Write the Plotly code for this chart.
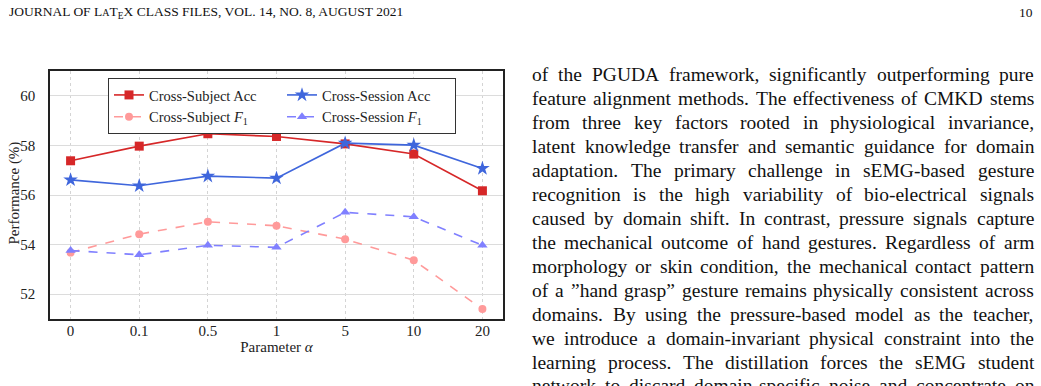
import plotly.graph_objects as go

# ---- data ----
alpha_labels = ["0", "0.1", "0.5", "1", "5", "10", "20"]
subject_acc = [57.38, 57.97, 58.47, 58.36, 58.06, 57.65, 56.17]
session_acc = [56.61, 56.37, 56.76, 56.68, 58.09, 58.01, 57.07]
subject_f1 = [53.68, 54.42, 54.92, 54.76, 54.22, 53.37, 51.40]
session_f1 = [53.76, 53.59, 53.97, 53.89, 55.30, 55.12, 53.97]
y_ticks = [52, 54, 56, 58, 60]

header_text = "JOURNAL OF L<span style='font-size:10px'>A</span>T<sub>E</sub>X CLASS FILES, VOL. 14, NO. 8, AUGUST 2021"
page_number = "10"
body_lines = [
    "of the PGUDA framework, significantly outperforming pure",
    "feature alignment methods. The effectiveness of CMKD stems",
    "from three key factors rooted in physiological invariance,",
    "latent knowledge transfer and semantic guidance for domain",
    "adaptation. The primary challenge in sEMG-based gesture",
    "recognition is the high variability of bio-electrical signals",
    "caused by domain shift. In contrast, pressure signals capture",
    "the mechanical outcome of hand gestures. Regardless of arm",
    "morphology or skin condition, the mechanical contact pattern",
    "of a \u201dhand grasp\u201d gesture remains physically consistent across",
    "domains. By using the pressure-based model as the teacher,",
    "we introduce a domain-invariant physical constraint into the",
    "learning process. The distillation forces the sEMG student",
    "network to discard domain-specific noise and concentrate on",
]

FONT = "Liberation Serif"
W, H = 1041, 386
L, R, T, B = 50, 538, 71, 67
plot_w = W - L - R
plot_h = H - T - B

# Times-compatible advance widths (per 1000 em) for justifying body text
TIMES_W = {
    'a': 444, 'b': 500, 'c': 444, 'd': 500, 'e': 444, 'f': 333, 'g': 500, 'h': 500,
    'i': 278, 'j': 278, 'k': 500, 'l': 278, 'm': 778, 'n': 500, 'o': 500, 'p': 500,
    'q': 500, 'r': 333, 's': 389, 't': 278, 'u': 500, 'v': 500, 'w': 722, 'x': 500,
    'y': 500, 'z': 444,
    'A': 722, 'B': 667, 'C': 667, 'D': 722, 'E': 611, 'F': 556, 'G': 722, 'H': 722,
    'I': 333, 'J': 389, 'K': 722, 'L': 611, 'M': 889, 'N': 722, 'O': 722, 'P': 556,
    'Q': 722, 'R': 667, 'S': 556, 'T': 611, 'U': 722, 'V': 722, 'W': 944, 'X': 722,
    'Y': 722, 'Z': 611,
    ',': 250, '.': 250, '-': 333, '\u201d': 444, '\u201c': 444, ' ': 250,
}


def text_width(s, size):
    return sum(TIMES_W.get(ch, 500) for ch in s) * size / 1000.0


def px_x(px):
    return (px - L) / plot_w


def px_y(py):
    return (H - B - py) / plot_h


x_idx = list(range(len(alpha_labels)))

fig = go.Figure()
fig.add_trace(go.Scatter(
    x=x_idx, y=subject_acc, mode="lines+markers", name="Cross-Subject Acc",
    line=dict(color="#d62728", width=1.6),
    marker=dict(symbol="square", size=9, color="#d62728")))
fig.add_trace(go.Scatter(
    x=x_idx, y=session_acc, mode="lines+markers", name="Cross-Session Acc",
    line=dict(color="#3f66dc", width=1.6),
    marker=dict(symbol="star", size=11, color="#3f66dc")))
fig.add_trace(go.Scatter(
    x=x_idx, y=subject_f1, mode="lines+markers", name="Cross-Subject <i>F</i><sub>1</sub>",
    line=dict(color="#ff9a9a", width=1.6, dash="dash"),
    marker=dict(symbol="circle", size=8, color="#ff9a9a")))
fig.add_trace(go.Scatter(
    x=x_idx, y=session_f1, mode="lines+markers", name="Cross-Session <i>F</i><sub>1</sub>",
    line=dict(color="#8080ff", width=1.6, dash="dash"),
    marker=dict(symbol="triangle-up", size=9, color="#8080ff")))

fig.update_layout(
    width=W, height=H,
    margin=dict(l=L, r=R, t=T, b=B, pad=0, autoexpand=False),
    paper_bgcolor="white", plot_bgcolor="white",
    font=dict(family=FONT, size=15, color="#222"),
    showlegend=True,
    legend=dict(
        orientation="h", x=px_x(108), y=px_y(78), xanchor="left", yanchor="top",
        bgcolor="white", bordercolor="#333", borderwidth=1,
        font=dict(family=FONT, size=14.5, color="#222"),
        entrywidth=128, entrywidthmode="pixels", tracegroupgap=0,
    ),
    xaxis=dict(
        range=[-0.3, 6.3], tickmode="array", tickvals=x_idx, ticktext=alpha_labels,
        showgrid=True, gridcolor="#d4d4d4", griddash="dot", gridwidth=1,
        showline=True, linecolor="#222", linewidth=1.5, mirror=True,
        ticks="", ticklabelstandoff=-3, zeroline=False, automargin=False,
        tickfont=dict(family=FONT, size=15, color="#222"),
        title=dict(text="Parameter <i>α</i>", standoff=0,
                   font=dict(family=FONT, size=15, color="#222")),
    ),
    yaxis=dict(
        range=[51, 61], tickmode="array", tickvals=y_ticks,
        showgrid=True, gridcolor="#dcdcdc", gridwidth=1.2,
        showline=True, linecolor="#222", linewidth=1.5, mirror=True,
        ticks="", ticklabelstandoff=10, zeroline=False, automargin=False,
        tickfont=dict(family=FONT, size=15, color="#222"),
    ),
)

annotations = []
# y-axis title
annotations.append(dict(
    text="Performance (%)", x=px_x(4), y=px_y(193), xref="paper", yref="paper",
    xanchor="left", yanchor="middle", textangle=-90, showarrow=False,
    borderpad=0, font=dict(family=FONT, size=15, color="#222")))
annotations.append(dict(
    text=header_text, x=px_x(7), y=px_y(12), xref="paper", yref="paper",
    xanchor="left", yanchor="middle", showarrow=False,
    font=dict(family=FONT, size=13.5, color="#111")))
annotations.append(dict(
    text=page_number, x=px_x(1035), y=px_y(12), xref="paper", yref="paper",
    xanchor="right", yanchor="middle", showarrow=False,
    font=dict(family=FONT, size=13.5, color="#111")))

BODY_SIZE = 19.5
BODY_LEFT, BODY_RIGHT = 532, 1034
for i, line in enumerate(body_lines):
    yc = 74 + 24 * i
    words = line.split(" ")
    widths = [text_width(w, BODY_SIZE) for w in words]
    gap = (BODY_RIGHT - BODY_LEFT - sum(widths)) / max(len(words) - 1, 1)
    xpos = BODY_LEFT
    for w, wd in zip(words, widths):
        annotations.append(dict(
            text=w, x=px_x(xpos), y=px_y(yc), xref="paper", yref="paper",
            xanchor="left", yanchor="middle", showarrow=False, borderpad=0,
            borderwidth=0,
            font=dict(family=FONT, size=BODY_SIZE, color="#111")))
        xpos += wd + gap

fig.update_layout(annotations=annotations)

fig.write_html("out.html")
